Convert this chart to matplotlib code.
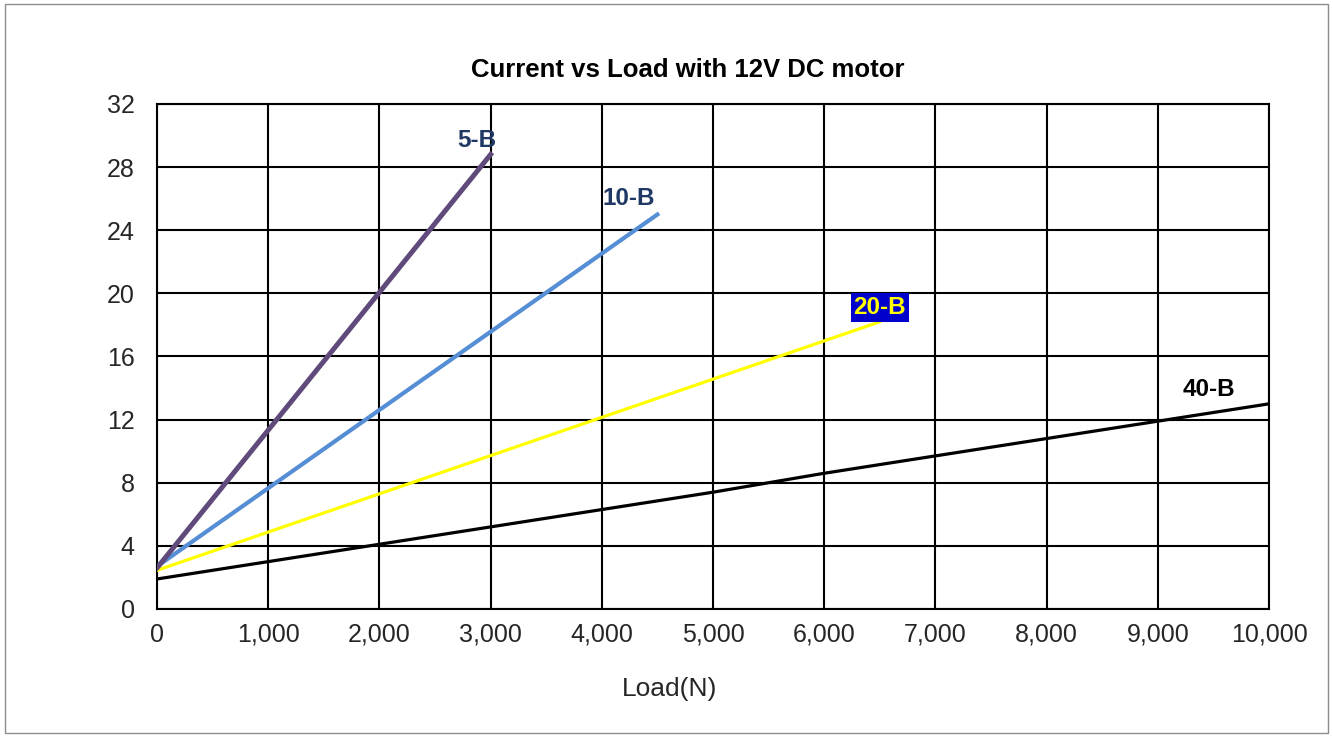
import matplotlib
matplotlib.use("Agg")
import matplotlib.pyplot as plt
from matplotlib.patches import Rectangle
from matplotlib.ticker import FuncFormatter, MultipleLocator

plt.rcParams['font.family'] = ['Liberation Sans', 'DejaVu Sans']

# ── 数据 ──────────────────────────────────────────
load_5b = [0, 3000]
cur_5b = [2.6, 28.8]

load_10b = [0, 4500]
cur_10b = [2.7, 25.0]

load_20b = [0, 6500]
cur_20b = [2.45, 18.2]

load_40b = [0, 1000, 2000, 3000, 4000, 5000, 6000, 7000, 8000, 9000, 10000]
cur_40b = [1.9, 3.0, 4.1, 5.2, 6.3, 7.4, 8.6, 9.7, 10.8, 11.9, 13.0]

fig = plt.figure(figsize=(13.33, 7.36), dpi=100)
ax = fig.add_axes([0.1178, 0.1726, 0.8342, 0.6861])

# outer border
fig.patches.append(Rectangle((0.004, 0.004), 0.992, 0.99, transform=fig.transFigure,
                             fill=False, edgecolor='#8c8c8c', lw=1.0))

ax.plot(load_40b, cur_40b, color='black', lw=2.3, zorder=3)
ax.plot(load_20b, cur_20b, color='#FFFF00', lw=2.3, zorder=3)
ax.plot(load_10b, cur_10b, color='#558ED5', lw=3.0, zorder=3)
ax.plot(load_5b, cur_5b, color='#604A7B', lw=3.6, zorder=3)

ax.text(2880, 29.7, "5-B", color='#1F3864', fontsize=17.5, fontweight='bold',
        ha='center', va='center', zorder=4)
ax.text(4240, 26.0, "10-B", color='#1F3864', fontsize=17.5, fontweight='bold',
        ha='center', va='center', zorder=4)
ax.text(6500, 19.1, "20-B", color='#FFFF00', fontsize=17.5, fontweight='bold',
        ha='center', va='center', zorder=4,
        bbox=dict(boxstyle='square,pad=0.12', facecolor='#0000CC', edgecolor='none'))
ax.text(9460, 13.9, "40-B", color='black', fontsize=17.5, fontweight='bold',
        ha='center', va='center', zorder=4)

ax.set_xlim(0, 10000)
ax.set_ylim(0, 32)
ax.xaxis.set_major_locator(MultipleLocator(1000))
ax.yaxis.set_major_locator(MultipleLocator(4))
ax.xaxis.set_major_formatter(FuncFormatter(lambda v, p: f"{int(v):,}"))
ax.grid(True, color='black', lw=1.5, zorder=1)
ax.set_axisbelow(True)
for s in ax.spines.values():
    s.set_color('black')
    s.set_linewidth(1.5)
ax.tick_params(length=0, labelsize=18, colors='#262626')
ax.tick_params(axis='x', pad=10)
ax.tick_params(axis='y', pad=16)

fig.text(670 / 1333, 1 - 689 / 736, "Load(N)", fontsize=19, color='#262626',
         ha='center', va='center')
fig.text(688 / 1333, 1 - 70 / 736, "Current vs Load with 12V DC motor", fontsize=18.5,
         fontweight='bold', ha='center', va='center')

fig.savefig("out.png", dpi=100)
